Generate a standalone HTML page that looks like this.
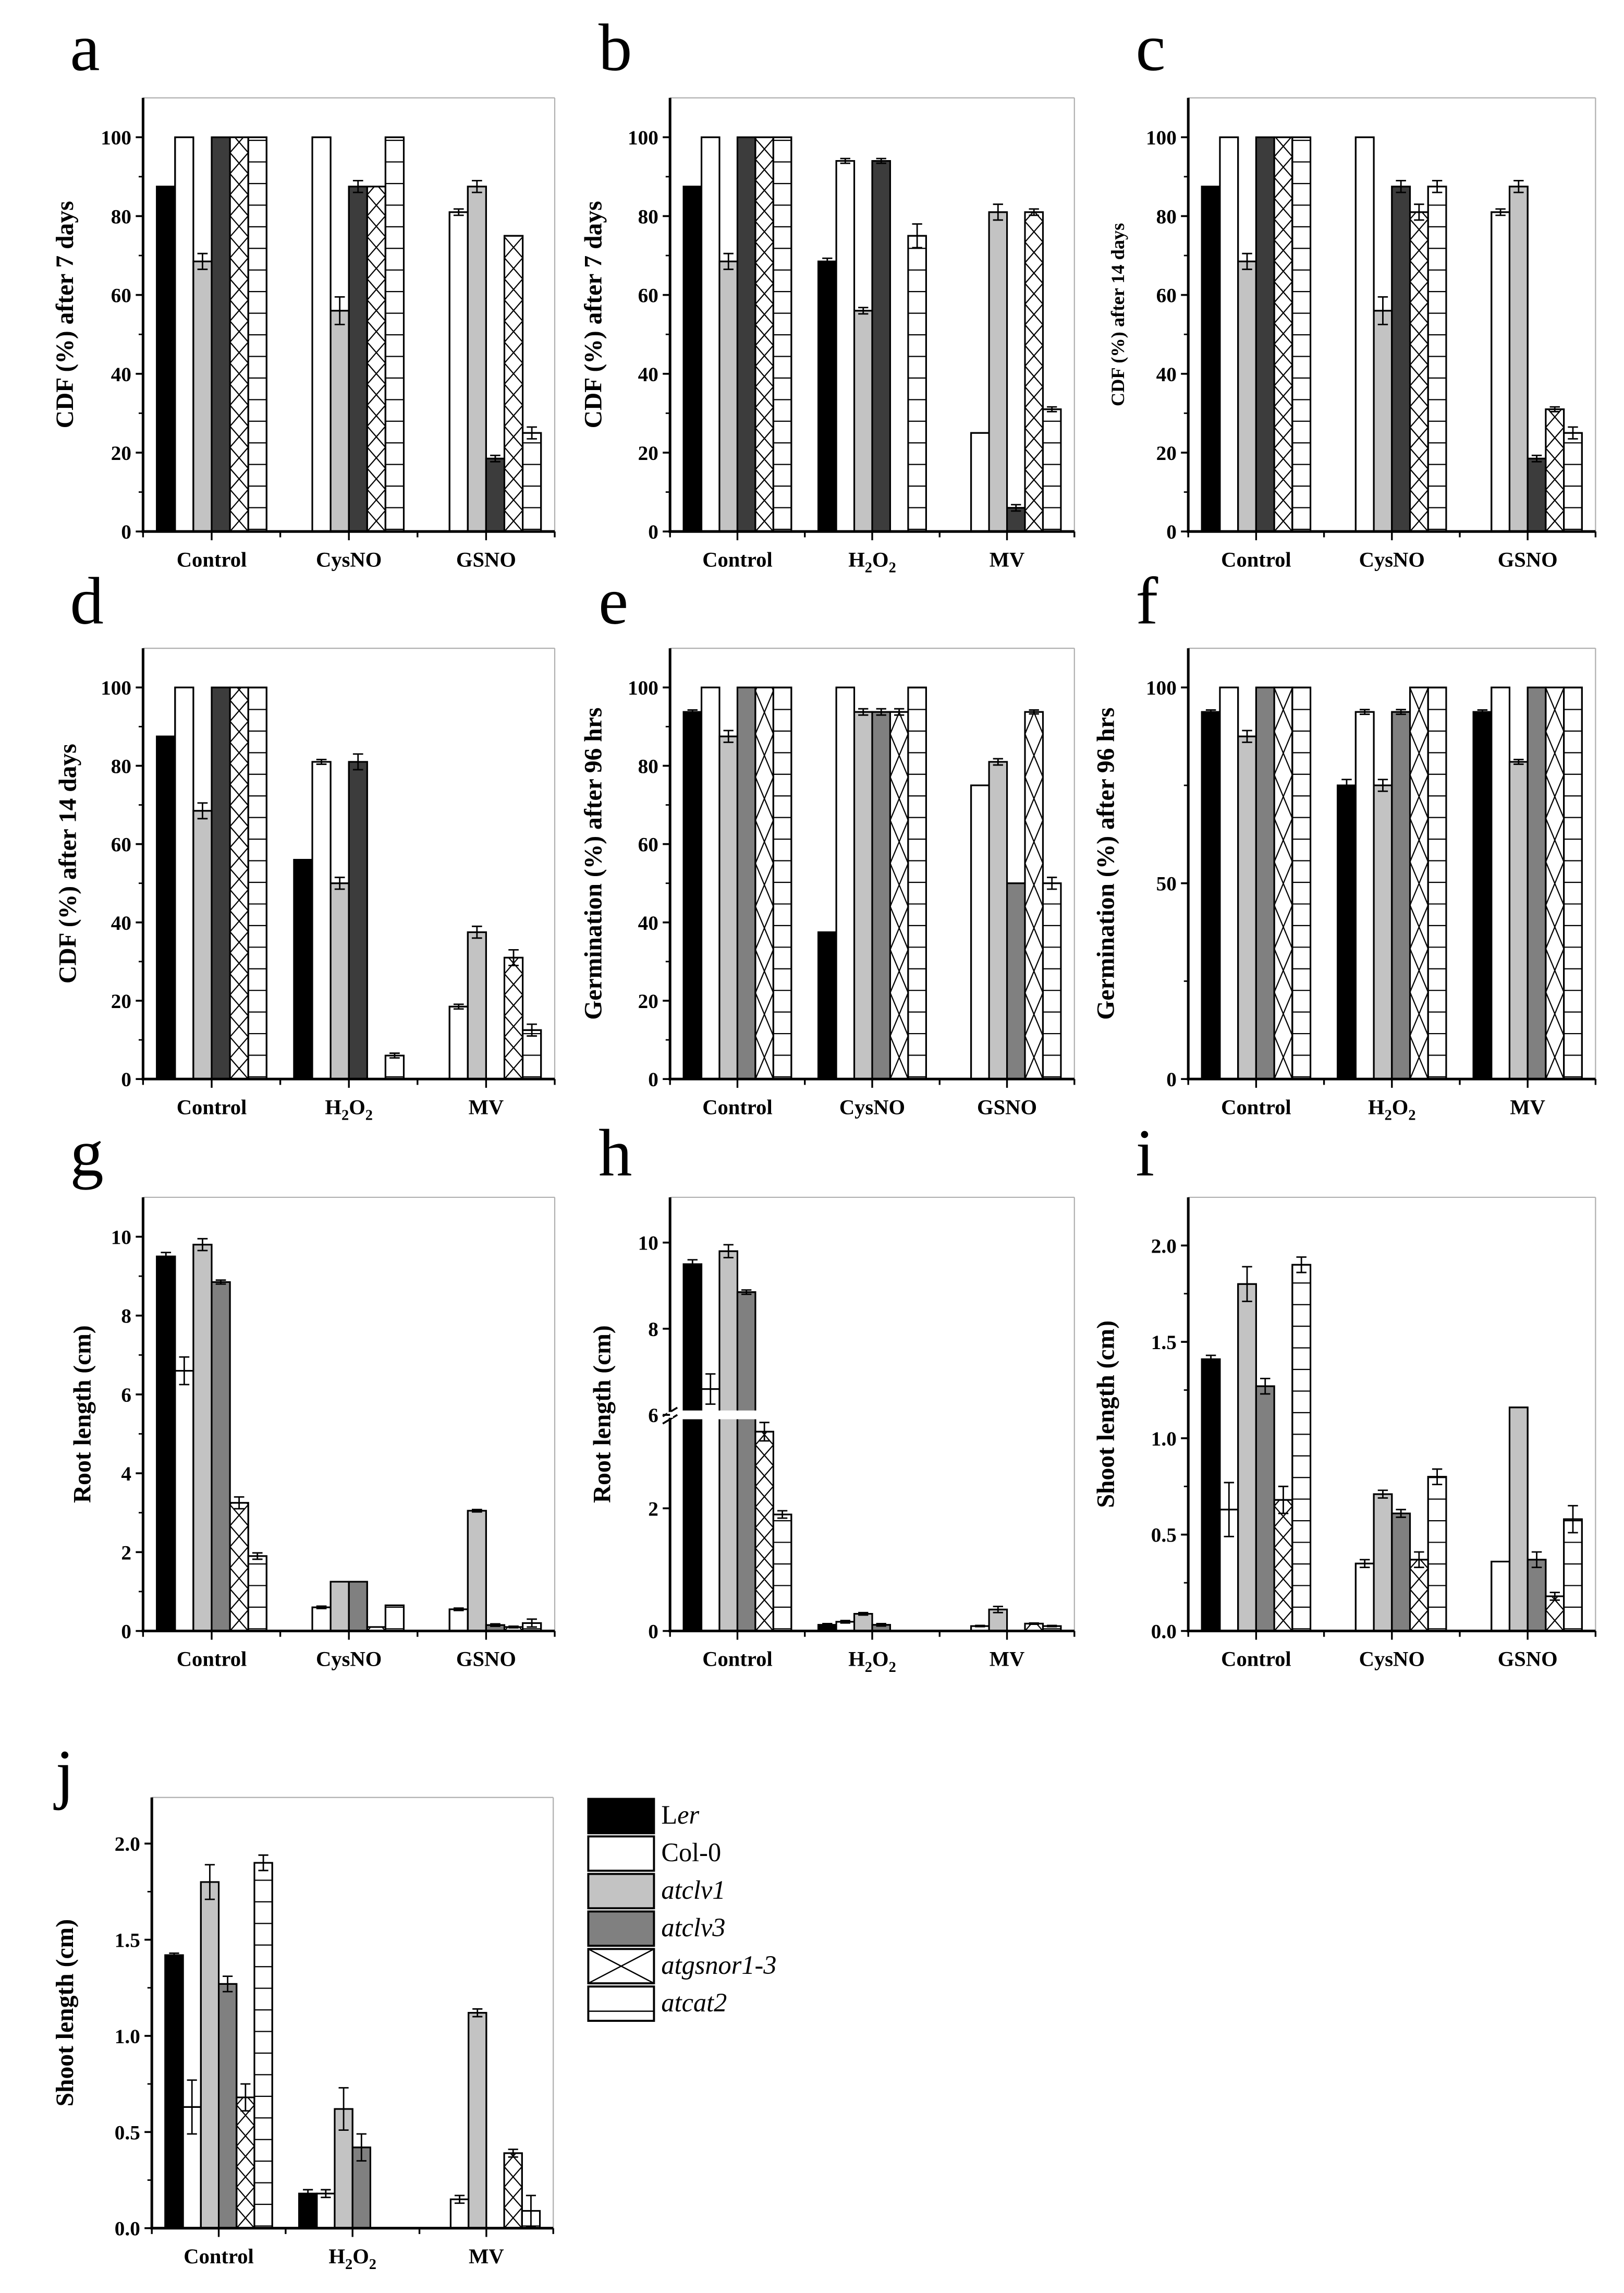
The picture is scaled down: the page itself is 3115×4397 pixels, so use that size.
<!DOCTYPE html>
<html><head><meta charset="utf-8"><style>
html,body{margin:0;padding:0;background:#fff;}
svg{display:block;}
text{font-family:"Liberation Serif",serif;}
</style></head><body>
<svg id="fig" xmlns="http://www.w3.org/2000/svg" width="3115" height="4397" viewBox="0 0 1112.5 1570.4" preserveAspectRatio="none">
<rect x="0" y="0" width="1112.5" height="1570.4" fill="#fff"/>
<defs id="defs"></defs>
<g id="legend"></g>
</svg>
<script>
// ---- data ----
const genotypes = ['Ler','Col-0','atclv1','atclv3','atgsnor1-3','atcat2'];
const catsCys = ['Control','CysNO','GSNO'];
const catsH2O2 = ['Control','H2O2','MV'];
const aValues = [[87.5,100,68.5,100,100,100],[0,100,56,87.5,87.5,100],[0,81,87.5,18.5,75,25]];
const aErrors = [[0,0,2,0,0,0],[0,0,3.5,1.5,0,0],[0,0.8,1.5,0.8,0,1.5]];
const bValues = [[87.5,100,68.5,100,100,100],[68.5,94,56,94,0,75],[0,25,81,6,81,31]];
const bErrors = [[0,0,2,0,0,0],[0.8,0.6,0.8,0.6,0,3],[0,0,2,0.8,0.8,0.6]];
const cValues = [[87.5,100,68.5,100,100,100],[0,100,56,87.5,81,87.5],[0,81,87.5,18.5,31,25]];
const cErrors = [[0,0,2,0,0,0],[0,0,3.5,1.5,2,1.5],[0,0.8,1.5,0.8,0.6,1.5]];
const dValues = [[87.5,100,68.5,100,100,100],[56,81,50,81,0,6],[0,18.5,37.5,0,31,12.5]];
const dErrors = [[0,0,2,0,0,0],[0,0.6,1.5,2,0,0.6],[0,0.6,1.5,0,2,1.5]];
const eValues = [[93.75,100,87.5,100,100,100],[37.5,100,93.75,93.75,93.75,100],[0,75,81,50,93.75,50]];
const eErrors = [[0.5,0,1.5,0,0,0],[0,0,0.8,0.8,0.8,0],[0,0,0.8,0,0.5,1.5]];
const fValues = [[93.75,100,87.5,100,100,100],[75,93.75,75,93.75,100,100],[93.75,100,81,100,100,100]];
const fErrors = [[0.5,0,1.5,0,0,0],[1.5,0.6,1.5,0.6,0,0],[0.5,0,0.6,0,0,0]];
const gValues = [[9.5,6.6,9.8,8.85,3.25,1.9],[0,0.6,1.25,1.25,0.1,0.65],[0,0.55,3.05,0.15,0.1,0.2]];
const gErrors = [[0.1,0.35,0.15,0.05,0.15,0.08],[0,0.03,0,0,0,0],[0,0.03,0.03,0.03,0.02,0.1]];
const hValues = [[9.5,6.6,9.8,8.85,3.25,1.9],[0.1,0.15,0.28,0.1,0,0],[0,0.08,0.35,0,0.12,0.08]];
const hErrors = [[0.1,0.35,0.15,0.05,0.15,0.06],[0.02,0.02,0.02,0.02,0,0],[0,0.01,0.05,0,0.01,0.01]];
const iValues = [[1.41,0.63,1.8,1.27,0.68,1.9],[0,0.35,0.71,0.61,0.37,0.8],[0,0.36,1.16,0.37,0.18,0.58]];
const iErrors = [[0.02,0.14,0.09,0.04,0.07,0.04],[0,0.02,0.02,0.02,0.04,0.04],[0,0,0,0.04,0.02,0.07]];
const jValues = [[1.42,0.63,1.8,1.27,0.68,1.9],[0.18,0.18,0.62,0.42,0,0],[0,0.15,1.12,0,0.39,0.09]];
const jErrors = [[0.01,0.14,0.09,0.04,0.07,0.04],[0.02,0.02,0.11,0.07,0,0],[0,0.02,0.02,0,0.02,0.08]];
const ticksPct = [0,20,40,60,80,100];
const ticksPct50 = [0,50,100];
const ticksRoot = [0,2,4,6,8,10];
const ticksRootBroken = [0,2,6,8,10];
const ticksShoot = [0,0.5,1.0,1.5,2.0];

const NS='http://www.w3.org/2000/svg';
const svg=document.getElementById('fig');
const defs=document.getElementById('defs');
let clipId=0;
function el(tag,attrs,parent){const e=document.createElementNS(NS,tag);for(const k in attrs)e.setAttribute(k,attrs[k]);(parent||svg).appendChild(e);return e;}

function fills(idx,dark){return ['#000','#fff','#c3c3c3',dark?'#3c3c3c':'#808080','#fff','#fff'][idx];}

function drawPattern(g,idx,x,w,top,bottom,hk){
  if(idx<4||bottom-top<0.5)return;
  const id='cl'+(clipId++);
  const cp=el('clipPath',{id:id},defs);
  el('rect',{x:x,y:top,width:w,height:bottom-top},cp);
  const pg=el('g',{'clip-path':'url(#'+id+')'},g);
  if(idx===4){
    const h=w*(hk||1.15);let d='';
    for(let y=bottom;y>top-h*2;y-=2*h){
      d+='M'+x+','+y+'L'+(x+w)+','+(y-h)+'L'+x+','+(y-2*h);
      d+='M'+(x+w)+','+y+'L'+x+','+(y-h)+'L'+(x+w)+','+(y-2*h);
    }
    el('path',{d:d,stroke:'#000','stroke-width':0.8,fill:'none'},pg);
  } else {
    let d='';
    for(let y=bottom-1.5;y>top;y-=14.8){d+='M'+x+','+y+'L'+(x+w)+','+y;}
    el('path',{d:d,stroke:'#000','stroke-width':0.8,fill:'none'},pg);
  }
}

function xLabel(g,txt,x,y,size){
  const t=el('text',{x:x,y:y,'text-anchor':'middle','font-size':size,'font-weight':'bold'},g);
  if(txt==='H2O2'){
    t.appendChild(document.createTextNode('H'));
    const s1=el('tspan',{dy:4,'font-size':size*0.7},t);s1.textContent='2';
    const s2=el('tspan',{dy:-4},t);s2.textContent='O';
    const s3=el('tspan',{dy:4,'font-size':size*0.7},t);s3.textContent='2';
  } else t.textContent=txt;
  return t;
}

function panel(cfg){
  const g=el('g',{});
  
  
  const {x0,x1,y0,yTop}=cfg;
  const ys=cfg.ys||(v=>y0-(v/cfg.ymax)*(y0-yTop));
  el('line',{x1:x0,y1:yTop,x2:x1,y2:yTop,stroke:'#b0b0b0','stroke-width':0.8},g);
  el('line',{x1:x1,y1:yTop,x2:x1,y2:y0,stroke:'#b0b0b0','stroke-width':0.8},g);
  const L=el('text',{x:cfg.lx,y:cfg.ly,'font-size':46},g);L.textContent=cfg.letter;
  
  
  const gw=(x1-x0)/3, span=gw*0.8, bw=span/6;
  cfg.values.forEach((grp,gi)=>{
    const cx=x0+(gi+0.5)*gw;
    grp.forEach((v,bi)=>{
      if(v<=0)return;
      const bx=cx-span/2+bi*bw, top=ys(v);
      const r=el('rect',{x:bx,y:top,width:bw,height:y0-top,fill:fills(bi,cfg.dark),stroke:'#000','stroke-width':1.1},g);
      
      
      drawPattern(g,bi,bx,bw,top,y0,cfg.hatchK);
      el('rect',{x:bx,y:top,width:bw,height:y0-top,fill:'none',stroke:'#000','stroke-width':1.1},g);
      const e=cfg.errors[gi][bi];
      if(e>0){
        const ex=bx+bw/2, c=bw*0.28;
        const eb=el('path',{d:'M'+ex+','+ys(v+e)+'L'+ex+','+ys(Math.max(0,v-e))+'M'+(ex-c)+','+ys(v+e)+'L'+(ex+c)+','+ys(v+e)+'M'+(ex-c)+','+ys(Math.max(0,v-e))+'L'+(ex+c)+','+ys(Math.max(0,v-e)),stroke:'#000','stroke-width':1,fill:'none'},g);
        
        
      }
    });
  });
  if(cfg.breakY){
    el('rect',{x:x0-6,y:cfg.breakY-3,width:x1-x0,height:6,fill:'#fff'},g);
    el('path',{d:'M'+(x0-5)+','+(cfg.breakY+1)+'L'+(x0+5)+','+(cfg.breakY-5)+'M'+(x0-5)+','+(cfg.breakY+6)+'L'+(x0+5)+','+(cfg.breakY)+'',stroke:'#000','stroke-width':1.3,fill:'none'},g);
  }
  const ya=el('line',{x1:x0,y1:yTop,x2:x0,y2:y0,stroke:'#000','stroke-width':1.8},g);
  
  if(cfg.breakY) el('rect',{x:x0-2,y:cfg.breakY-2,width:4,height:4,fill:'#fff'},g);
  const xa=el('line',{x1:x0-1,y1:y0,x2:x1,y2:y0,stroke:'#000','stroke-width':1.8},g);
  
  cfg.ticks.forEach((t,i)=>{
    const y=ys(t);
    el('line',{x1:x0-5,y1:y,x2:x0,y2:y,stroke:'#000','stroke-width':1.3},g);
    const tl=el('text',{x:x0-8,y:y+5,'text-anchor':'end','font-size':14,'font-weight':'bold'},g);
    tl.textContent=cfg.fmt?cfg.fmt(t):String(t);
    
    if(!cfg.noMinor && i<cfg.ticks.length-1){
      const m=(t+cfg.ticks[i+1])/2;
      el('line',{x1:x0-3,y1:ys(m),x2:x0,y2:ys(m),stroke:'#000','stroke-width':1},g);
    }
  });
  for(let k=0;k<=6;k++){
    const x=x0+k*gw/2;
    el('line',{x1:x,y1:y0,x2:x,y2:y0+(k%2?6:4),stroke:'#000','stroke-width':1.2},g);
  }
  cfg.cats.forEach((c,gi)=>{
    const t=xLabel(g,c,x0+(gi+0.5)*gw,y0+24,14.5);
    
  });
  const ty=(y0+yTop)/2;
  const yt=el('text',{x:cfg.tx,y:ty,'text-anchor':'middle','font-size':cfg.tsize||17,'font-weight':'bold',transform:'rotate(-90 '+cfg.tx+' '+ty+')'},g);
  yt.textContent=cfg.title;
  
}

const C1=[98,380],C2=[459,736],C3=[814,1093];
const R1=[364,67],R2=[739,444],R3=[1117,820];
panel({letter:'a',lx:48,ly:48,x0:C1[0],x1:C1[1],y0:R1[0],yTop:R1[1],ymax:110,ticks:ticksPct,values:aValues,errors:aErrors,cats:catsCys,dark:true,title:'CDF (%) after 7 days',tx:50});
panel({letter:'b',lx:410,ly:48,x0:C2[0],x1:C2[1],y0:R1[0],yTop:R1[1],ymax:110,ticks:ticksPct,values:bValues,errors:bErrors,cats:catsH2O2,dark:true,title:'CDF (%) after 7 days',tx:412});
panel({letter:'c',lx:778,ly:48,x0:C3[0],x1:C3[1],y0:R1[0],yTop:R1[1],ymax:110,ticks:ticksPct,values:cValues,errors:cErrors,cats:catsCys,dark:true,title:'CDF (%) after 14 days',tx:770,tsize:13});
panel({letter:'d',lx:48,ly:427,x0:C1[0],x1:C1[1],y0:R2[0],yTop:R2[1],ymax:110,ticks:ticksPct,values:dValues,errors:dErrors,cats:catsH2O2,dark:true,title:'CDF (%) after 14 days',tx:52});
panel({letter:'e',lx:410,ly:427,x0:C2[0],x1:C2[1],y0:R2[0],yTop:R2[1],ymax:110,ticks:ticksPct,values:eValues,errors:eErrors,cats:catsCys,dark:false,hatchK:2.4,title:'Germination (%) after 96 hrs',tx:412});
panel({letter:'f',lx:778,ly:427,x0:C3[0],x1:C3[1],y0:R2[0],yTop:R2[1],ymax:110,ticks:ticksPct50,values:fValues,errors:fErrors,cats:catsH2O2,dark:false,hatchK:2.4,title:'Germination (%) after 96 hrs',tx:763});
panel({letter:'g',lx:48,ly:805,x0:C1[0],x1:C1[1],y0:R3[0],yTop:R3[1],ymax:11,ticks:ticksRoot,values:gValues,errors:gErrors,cats:catsCys,dark:false,title:'Root length (cm)',tx:62});
panel({letter:'h',lx:410,ly:805,x0:C2[0],x1:C2[1],y0:R3[0],yTop:R3[1],ticks:ticksRootBroken,noMinor:true,breakY:969,
  ys:v=>v<=3.6?1117-v*42:969-(v-6)*29.5,values:hValues,errors:hErrors,cats:catsH2O2,dark:false,title:'Root length (cm)',tx:418});
panel({letter:'i',lx:778,ly:805,x0:C3[0],x1:C3[1],y0:R3[0],yTop:R3[1],ymax:2.25,ticks:ticksShoot,fmt:t=>t.toFixed(1),values:iValues,errors:iErrors,cats:catsCys,dark:false,title:'Shoot length (cm)',tx:763});
panel({letter:'j',lx:38,ly:1230,x0:104,x1:379,y0:1526,yTop:1231,ymax:2.24,ticks:ticksShoot,fmt:t=>t.toFixed(1),values:jValues,errors:jErrors,cats:catsH2O2,dark:false,title:'Shoot length (cm)',tx:50});

const lg=document.getElementById('legend');
const legendLabels=['Ler','Col-0','atclv1','atclv3','atgsnor1-3','atcat2'];
legendLabels.forEach((lab,i)=>{
  const y=1232+i*25.7, x=403, w=45, h=23.5;
  const r=el('rect',{x:x,y:y,width:w,height:h,fill:fills(i,false),stroke:'#000','stroke-width':1.4},lg);
  
  
  if(i===4){el('path',{d:'M'+x+','+y+'L'+(x+w)+','+(y+h)+'M'+(x+w)+','+y+'L'+x+','+(y+h),stroke:'#000','stroke-width':0.9,fill:'none'},lg);}
  if(i===5){el('line',{x1:x,y1:y+h*0.72,x2:x+w,y2:y+h*0.72,stroke:'#000','stroke-width':0.9},lg);}
  const t=el('text',{x:453,y:y+17,'font-size':18},lg);
  
  
  if(i===0){t.appendChild(document.createTextNode('L'));const s=el('tspan',{'font-style':'italic'},t);s.textContent='er';}
  else if(i===1){t.textContent='Col-0';}
  else {t.setAttribute('font-style','italic');t.textContent=lab;}
});
</script>
</body></html>
